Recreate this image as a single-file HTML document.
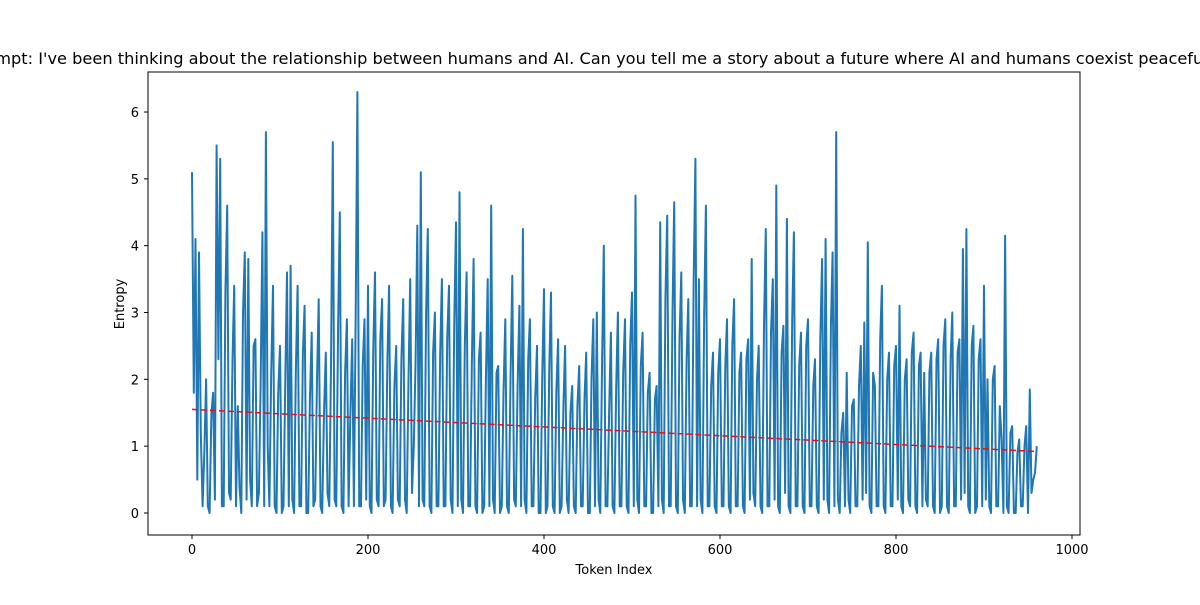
<!DOCTYPE html>
<html><head><meta charset="utf-8"><style>
body{margin:0;background:#fff;font-family:"Liberation Sans","DejaVu Sans",sans-serif;}
svg text{font-family:"DejaVu Sans","Liberation Sans",sans-serif;}
</style></head><body>
<svg width="1200" height="600">
<text x="600" y="64" text-anchor="middle" font-size="16.2">Prompt: I've been thinking about the relationship between humans and AI. Can you tell me a story about a future where AI and humans coexist peacefully?</text>
<g id="plot"></g>
<rect x="148" y="72" width="932" height="463" fill="none" stroke="#000" stroke-width="1"/>
<text x="614" y="574" text-anchor="middle" font-size="13">Token Index</text>
<text transform="translate(124,304) rotate(-90)" text-anchor="middle" font-size="13">Entropy</text>
</svg>
<script>
const xTicks=[0,200,400,600,800,1000];
const yTicks=[0,1,2,3,4,5,6];
const tokenStep=4;
// entropy at tokens 0,4,8,...,960
const entropyA=[5.1,4.1,3.9,0.1,2.0,0.0,1.8,5.5,5.3,0.1,
4.6,0.2,3.4,1.6,0.0,3.9,3.8,0.1,2.6,0.3,
4.2,5.7,0.1,3.4,0.0,2.5,0.1,3.6,3.7,0.0,
3.4,0.1,3.1,0.0,2.7,0.2,3.2,0.0,2.4,0.1,
5.55,0.1,4.5,0.0,2.9,1.5,0.1,6.3,0.1,2.9,
3.4,0.0,3.6,0.1,3.2,0.2,3.4,0.0,2.5,0.1,
3.2,0.0,3.5,1.0,4.3,5.1,0.1,4.25,0.0,3.0,
0.1,3.5,0.1,3.4,0.0,4.35,4.8,0.0,3.6,0.1,
3.8,0.0,2.7,0.1,3.5,4.6,0.0,2.2,0.1,2.9,
0.0,3.55,0.1,3.1,4.25,0.0,2.9,0.1,2.5,0.0,
3.35,0.1,3.3,0.0,2.6,0.1,2.5,0.0,1.9,0.0,
2.2,0.1,2.4,0.0,2.9,3.0,0.0,4.0,0.1,2.7,
0.0,3.0,0.1,2.9,0.0,3.3,4.75,0.0,2.7,0.1,
2.1,0.0,1.9,4.35,0.0,4.45,0.1,4.65,0.0,3.6,
0.0,3.2,0.1,5.3,3.5,0.0,4.6,0.1,2.4,0.0,
2.6,0.1,2.9,0.0,3.2,0.1,2.4,0.0,2.6,3.8,
0.1,2.5,0.0,4.25,0.1,3.5,4.9,0.0,2.8,4.4,
0.0,4.2,0.1,2.7,0.0,2.9,0.1,2.3,0.0,3.8,
4.1,0.0,3.9,5.7,0.0,1.5,2.1,0.0,1.7,0.1,
2.5,2.85,4.05,0.0,1.9,0.1,3.4,0.0,2.4,0.1,
2.5,3.1,0.0,2.3,0.1,2.7,0.0,2.4,2.1,0.1,
2.4,0.0,2.6,0.1,2.9,0.0,3.0,0.1,2.6,3.95,
4.25,0.0,2.8,0.1,2.6,3.4,2.0,0.0,2.2,0.1,
1.1,4.15,0.0,1.3,0.0,1.1,0.1,1.3,1.85,0.5,
1.0];
// entropy at tokens 2,6,10,...,958
const entropyB=[1.8,0.5,1.2,0.9,0.1,1.5,0.2,2.3,0.1,3.3,
0.3,2.3,0.1,0.4,3.0,0.2,0.5,2.5,0.1,1.9,
0.1,1.0,2.1,0.1,1.8,0.0,2.0,0.1,0.2,2.1,
0.1,2.4,0.0,1.7,0.1,2.0,0.1,1.5,0.3,2.2,
0.2,2.8,0.1,2.1,0.1,2.6,3.0,0.1,2.2,0.2,
0.1,2.5,0.2,2.6,0.1,2.3,0.1,1.9,0.2,2.3,
0.2,2.0,0.3,2.2,0.1,0.2,3.0,0.1,2.4,0.1,
2.4,0.1,2.6,0.2,2.8,0.1,0.2,2.5,0.1,2.2,
0.1,2.3,0.0,2.0,0.1,0.2,2.1,0.0,1.8,0.1,
2.1,0.2,1.9,0.1,0.2,2.3,0.1,1.7,0.0,2.0,
0.0,2.2,0.1,1.8,0.0,1.6,0.2,1.5,0.1,1.6,
0.1,1.7,0.0,2.0,0.1,0.2,2.3,0.1,1.5,0.1,
1.9,0.1,2.1,0.1,2.5,0.1,0.2,2.2,0.1,1.8,
0.0,1.7,0.1,0.2,3.2,0.1,3.0,0.1,2.6,0.2,
2.3,0.1,3.4,0.1,0.2,3.0,0.1,1.9,0.1,2.1,
0.1,2.2,0.1,2.5,0.1,2.1,0.1,2.3,0.2,0.3,
2.0,0.1,2.8,0.1,2.7,0.2,0.1,2.4,0.3,0.1,
2.9,0.1,2.2,0.1,2.5,0.1,1.9,0.1,2.6,0.2,
0.2,2.8,0.1,0.2,1.2,0.1,0.2,1.6,0.1,1.9,
0.2,0.3,0.1,2.1,0.1,2.6,0.1,2.0,0.1,2.2,
0.2,0.1,2.0,0.2,2.4,0.1,2.2,0.1,0.2,2.1,
0.1,2.3,0.0,2.5,0.1,2.3,0.1,2.4,0.2,0.3,
0.1,2.5,0.0,2.3,0.1,0.2,0.1,2.0,0.1,1.6,
0.0,0.1,1.2,0.0,0.9,0.1,1.0,0.0,0.3,0.6];
const trendX=[0,960];
const trendY=[1.55,0.92];

const X=v=>192+v*0.88;
const Y=v=>513-v*66.83;
const NS="http://www.w3.org/2000/svg";
const g=document.getElementById('plot');
function mk(t,a){const e=document.createElementNS(NS,t);for(const k in a)e.setAttribute(k,a[k]);g.appendChild(e);return e;}
xTicks.forEach(t=>{
 const l=mk('line',{x1:X(t),x2:X(t),y1:535,y2:539,stroke:'#000'});
 
 
 const tx=mk('text',{x:X(t),y:554,'text-anchor':'middle','font-size':13});tx.textContent=t;
 
 
});
yTicks.forEach(t=>{
 const l=mk('line',{x1:144,x2:148,y1:Y(t),y2:Y(t),stroke:'#000'});
 
 
 const tx=mk('text',{x:139,y:Y(t)+5,'text-anchor':'end','font-size':13});tx.textContent=t;
 
 
});
const series=[];
entropyA.forEach((v,i)=>{
 series.push([i*tokenStep,v]);
 if(i<entropyB.length) series.push([i*tokenStep+tokenStep/2,entropyB[i]]);
});
const pts=series.map(p=>X(p[0]).toFixed(1)+','+Y(p[1]).toFixed(1)).join(' ');
const pl=mk('polyline',{points:pts,fill:'none',stroke:'#1f77b4','stroke-width':2,'stroke-linejoin':'round'});


const tr=mk('line',{x1:X(trendX[0]),y1:Y(trendY[0]),x2:X(trendX[1]),y2:Y(trendY[1]),stroke:'#e8101a','stroke-width':1.5,'stroke-dasharray':'6,3'});


</script>
</body></html>
